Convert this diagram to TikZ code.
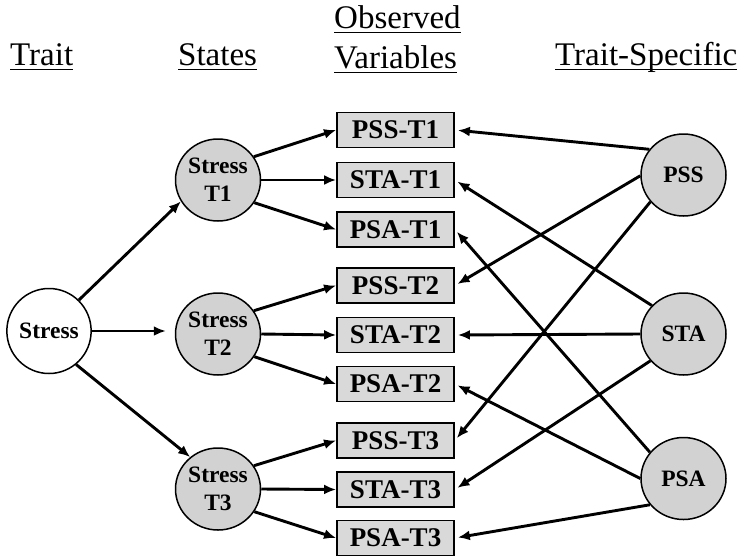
\documentclass[tikz,border=0pt]{standalone}
\usepackage{fontspec}
\setmainfont{Liberation Serif}
\usetikzlibrary{arrows.meta,shapes.geometric}
\definecolor{boxgray}{RGB}{217,217,217}
\definecolor{circgray}{RGB}{210,210,210}
\tikzset{
 obsbox/.style={draw, line width=1.8pt, fill=boxgray, minimum width=117pt, minimum height=35pt, inner sep=0pt, font=\fontsize{27}{28}\selectfont\bfseries},
 latent/.style={ellipse, draw, line width=1.5pt, fill=circgray, minimum width=85pt, minimum height=82pt, inner sep=0pt, align=center, font=\fontsize{23.5}{28}\selectfont\bfseries},
 arr/.style={line width=2.9pt, -{Latex[length=12pt,width=10pt]}},
 hdr/.style={anchor=base west, inner sep=0pt, font=\fontsize{33}{36}\selectfont},
 uline/.style={line width=1.6pt}
}
\begin{document}
\begin{tikzpicture}[x=1pt,y=-1pt]
\useasboundingbox (0,0) rectangle (741,558);
% headers
\node[hdr] (htrait) at (10,65) {Trait};
\node[hdr] (hstates) at (178,65) {States};
\node[hdr] (hobs) at (334,28) {Observed};
\node[hdr] (hvar) at (334,68) {Variables};
\node[hdr] (hspec) at (555,65) {Trait-Specific};
\foreach \h in {htrait,hstates,hobs,hvar,hspec}
  \draw[uline] ([yshift=-4.5pt]\h.base west) -- ([yshift=-4.5pt]\h.base east);
% latent nodes
\node[latent, fill=white, minimum width=84pt, minimum height=85pt] (S) at (49,331) {Stress};
\node[latent] (T1) at (218,180) {Stress\\T1};
\node[latent] (T2) at (218,334) {Stress\\T2};
\node[latent] (T3) at (218,489) {Stress\\T3};
\node[latent] (PSS) at (683.5,175) {PSS};
\node[latent] (STA) at (683.5,334) {STA};
\node[latent] (PSA) at (683.5,478.5) {PSA};
% observed
\node[obsbox] (pss1) at (395.5,130) {PSS-T1};
\node[obsbox] (sta1) at (395.5,180) {STA-T1};
\node[obsbox] (psa1) at (395.5,229.5) {PSA-T1};
\node[obsbox] (pss2) at (395.5,285.5) {PSS-T2};
\node[obsbox] (sta2) at (395.5,335) {STA-T2};
\node[obsbox] (psa2) at (395.5,384) {PSA-T2};
\node[obsbox] (pss3) at (395.5,440.5) {PSS-T3};
\node[obsbox] (sta3) at (395.5,489.5) {STA-T3};
\node[obsbox] (psa3) at (395.5,538) {PSA-T3};
% trait to states
\draw[arr] (S.46) -- (T1.210);
\draw[arr, shorten >=9pt] (S.east) -- (S.east -| T2.west);
\draw[arr] (S.-51) -- (T3.131);
% states to observed
\foreach \i in {1,2,3}{
  \draw[arr] (T\i.33) -- (pss\i.west);
  \draw[arr] (T\i.east) -- (sta\i.west);
  \draw[arr] (T\i.-32) -- (psa\i.west);
}
% trait-specific to observed
\draw[arr, shorten >=3pt] (PSS.143) -- (pss1.east);
\draw[arr, shorten >=3pt] (PSS.181) -- (pss2.east);
\draw[arr, shorten >=3pt] (PSS.219) -- (pss3.east);
\draw[arr, shorten >=3pt] (STA.138) -- (sta1.east);
\draw[arr, shorten >=3pt] (STA.west) -- (sta2.east);
\draw[arr, shorten >=3pt] (STA.219) -- (sta3.east);
\draw[arr, shorten >=3pt] (PSA.142) -- (psa1.east);
\draw[arr, shorten >=3pt] (PSA.180) -- (psa2.east);
\draw[arr, shorten >=3pt] (PSA.218) -- (psa3.east);
\end{tikzpicture}
\end{document}
